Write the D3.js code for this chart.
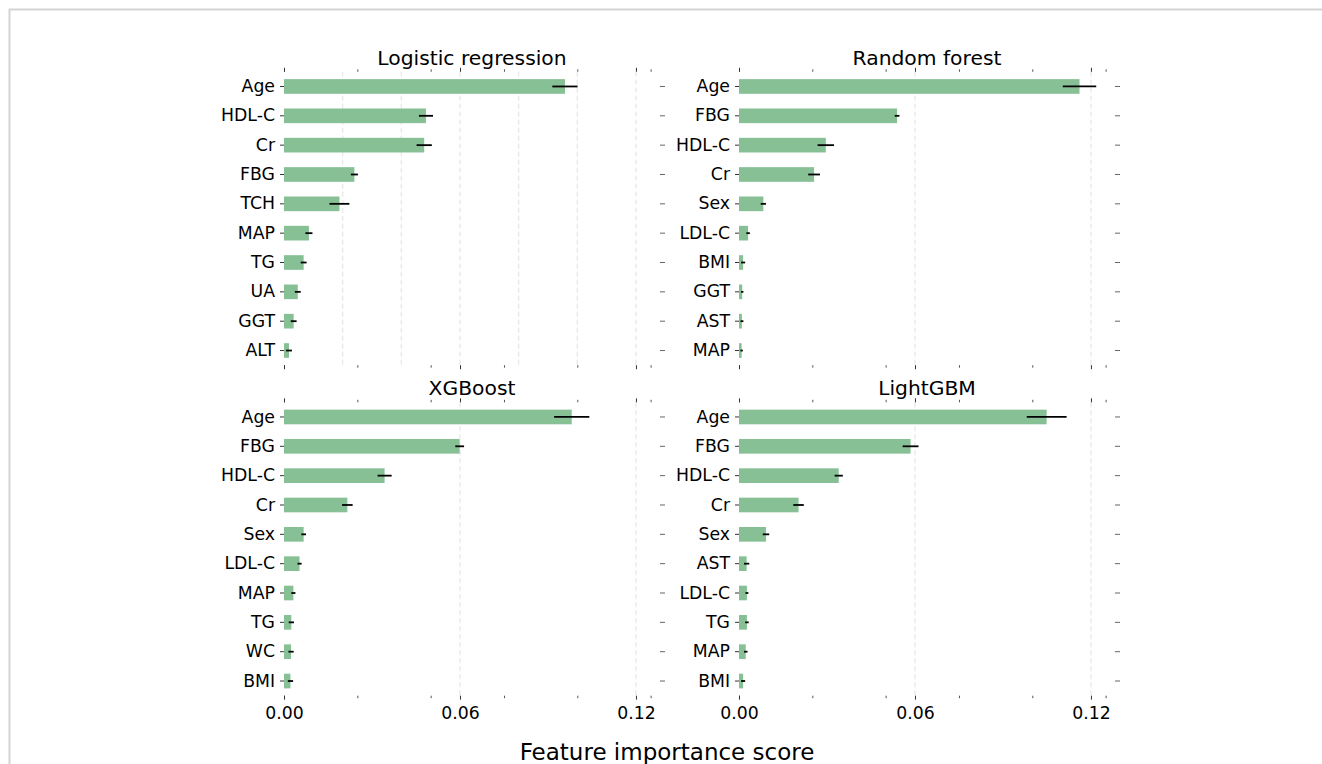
<html>
<head>
  <script src="https://d3js.org/d3.v7.min.js"></script>
  <style>
    body { margin: 0; background: #fff; }
    text { font-family: "DejaVu Sans", sans-serif; fill: #000; }
    .domain { display: none; }
  </style>
</head>
<body>
<svg id="chart" width="1322" height="764"></svg>
<script>
  // feature names, importance values and error (std) for each model
  const lrNames = ["Age", "HDL-C", "Cr", "FBG", "TCH", "MAP", "TG", "UA", "GGT", "ALT"];
  const lrValues = [0.0958, 0.0484, 0.0478, 0.0240, 0.0189, 0.0085, 0.0067, 0.0047, 0.0033, 0.0017];
  const lrErrors = [0.0043, 0.0024, 0.0026, 0.0012, 0.0034, 0.0012, 0.0010, 0.0010, 0.0010, 0.0010];

  const rfNames = ["Age", "FBG", "HDL-C", "Cr", "Sex", "LDL-C", "BMI", "GGT", "AST", "MAP"];
  const rfValues = [0.1161, 0.0539, 0.0296, 0.0256, 0.0083, 0.0031, 0.0014, 0.0011, 0.0010, 0.0009];
  const rfErrors = [0.0057, 0.0008, 0.0028, 0.0020, 0.0009, 0.0006, 0.0007, 0.0004, 0.0005, 0.0004];

  const xgbNames = ["Age", "FBG", "HDL-C", "Cr", "Sex", "LDL-C", "MAP", "TG", "WC", "BMI"];
  const xgbValues = [0.0981, 0.0599, 0.0343, 0.0216, 0.0067, 0.0053, 0.0032, 0.0025, 0.0024, 0.0022];
  const xgbErrors = [0.0060, 0.0015, 0.0024, 0.0018, 0.0008, 0.0007, 0.0007, 0.0009, 0.0009, 0.0009];

  const lgbNames = ["Age", "FBG", "HDL-C", "Cr", "Sex", "AST", "LDL-C", "TG", "MAP", "BMI"];
  const lgbValues = [0.1049, 0.0585, 0.0340, 0.0203, 0.0092, 0.0026, 0.0027, 0.0027, 0.0023, 0.0014];
  const lgbErrors = [0.0068, 0.0027, 0.0014, 0.0018, 0.0011, 0.0009, 0.0005, 0.0006, 0.0006, 0.0007];

  const majorTicks = [0, 0.06, 0.12];
  const minorTicks = [0, 0.025, 0.05, 0.075, 0.1, 0.125];
  const lrGrid = [0.02, 0.04, 0.06, 0.08, 0.10, 0.12];
  const otherGrid = [0.06, 0.12];
  const xMax = 0.1282;

  const svg = d3.select("svg#chart");

  // light frame around the figure
  svg.append("rect")
    .attr("x", 9.5).attr("y", 9.5)
    .attr("width", 1400).attr("height", 900)
    .attr("fill", "none")
    .attr("stroke", "#d4d4d4")
    .attr("stroke-width", 2);

  const panels = [
    { title: "Logistic regression", names: lrNames, values: lrValues, errors: lrErrors, grid: lrGrid, x0: 284, y0: 71.8, labels: false },
    { title: "Random forest", names: rfNames, values: rfValues, errors: rfErrors, grid: otherGrid, x0: 739, y0: 71.8, labels: false },
    { title: "XGBoost", names: xgbNames, values: xgbValues, errors: xgbErrors, grid: otherGrid, x0: 284, y0: 402.3, labels: true },
    { title: "LightGBM", names: lgbNames, values: lgbValues, errors: lgbErrors, grid: otherGrid, x0: 739, y0: 402.3, labels: true }
  ];
  const panelWidth = 376;
  const panelHeight = 293.4;

  panels.forEach(p => {
    const g = svg.append("g").attr("transform", `translate(${p.x0},${p.y0})`);

    const xScale = d3.scaleLinear().domain([0, xMax]).range([0, panelWidth]);
    const yScale = d3.scaleBand().domain(p.names).range([0, panelHeight])
      .paddingInner(0.5).paddingOuter(0.25);

    // dashed gridlines
    g.selectAll("line.grid").data(p.grid)
      .join("line")
      .attr("class", "grid")
      .attr("x1", d => xScale(d)).attr("x2", d => xScale(d))
      .attr("y1", 0).attr("y2", panelHeight)
      .attr("stroke", "#ebebeb")
      .attr("stroke-width", 1.5)
      .attr("stroke-dasharray", "5,3");

    // bars
    g.selectAll("rect.bar").data(p.names)
      .join("rect")
      .attr("class", "bar")
      .attr("x", 0)
      .attr("y", d => yScale(d))
      .attr("width", (d, i) => xScale(p.values[i]))
      .attr("height", yScale.bandwidth())
      .attr("fill", "#88c096");

    // error bars
    g.selectAll("line.err").data(p.names)
      .join("line")
      .attr("class", "err")
      .attr("x1", (d, i) => xScale(p.values[i] - p.errors[i]))
      .attr("x2", (d, i) => xScale(p.values[i] + p.errors[i]))
      .attr("y1", d => yScale(d) + yScale.bandwidth() / 2)
      .attr("y2", d => yScale(d) + yScale.bandwidth() / 2)
      .attr("stroke", "#000")
      .attr("stroke-width", 1.8);

    // minor ticks top and bottom
    g.append("g")
      .call(d3.axisTop(xScale).tickValues(minorTicks).tickSize(2.5).tickFormat(""))
      .selectAll("line").attr("stroke", "#555");
    g.append("g")
      .attr("transform", `translate(0,${panelHeight})`)
      .call(d3.axisBottom(xScale).tickValues(minorTicks).tickSize(2.5).tickFormat(""))
      .selectAll("line").attr("stroke", "#555");

    // major ticks
    g.append("g")
      .call(d3.axisTop(xScale).tickValues(majorTicks).tickSize(4).tickFormat(""))
      .selectAll("line").attr("stroke", "#333");
    const bottomAxis = g.append("g")
      .attr("transform", `translate(0,${panelHeight})`)
      .call(d3.axisBottom(xScale).tickValues(majorTicks).tickSize(4).tickPadding(7)
        .tickFormat(p.labels ? d3.format(".2f") : ""));
    bottomAxis.selectAll("line").attr("stroke", "#333");
    bottomAxis.selectAll("text").style("font-size", "17.3px").attr("fill", "#000");

    // y axis left with feature names
    const leftAxis = g.append("g")
      .call(d3.axisLeft(yScale).tickSize(4).tickPadding(5));
    leftAxis.selectAll("line").attr("stroke", "#333");
    leftAxis.selectAll("text").style("font-size", "17.3px").attr("fill", "#000");

    // y ticks on the right side
    g.append("g")
      .attr("transform", `translate(${panelWidth},0)`)
      .call(d3.axisRight(yScale).tickSize(5).tickFormat(""))
      .selectAll("line").attr("stroke", "#666");

    // title
    g.append("text")
      .attr("x", panelWidth / 2)
      .attr("y", -7)
      .attr("text-anchor", "middle")
      .style("font-size", "20.3px")
      .text(p.title);
  });

  // shared x label
  svg.append("text")
    .attr("x", 667)
    .attr("y", 760)
    .attr("text-anchor", "middle")
    .style("font-size", "23px")
    .text("Feature importance score");
</script>
</body>
</html>
